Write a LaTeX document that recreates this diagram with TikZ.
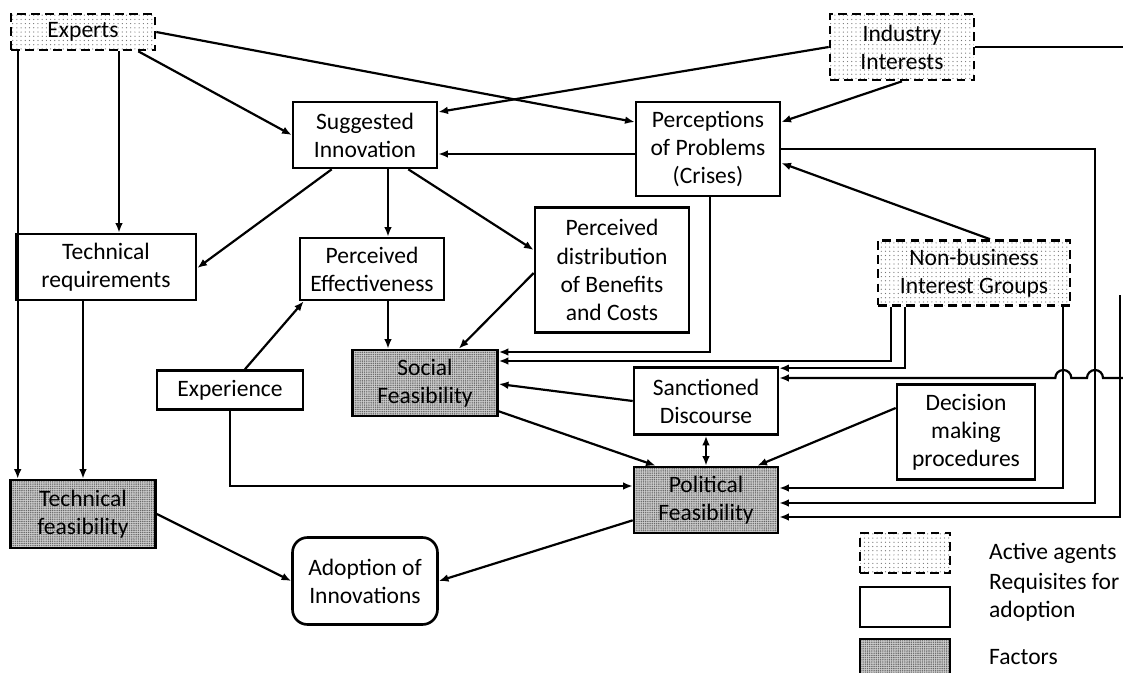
\documentclass[tikz,border=0pt]{standalone}
\usepackage{fontspec}
\setmainfont{Carlito}
\usetikzlibrary{arrows.meta, calc, patterns.meta}

\begin{document}
\begin{tikzpicture}[x=0.02cm, y=-0.02cm,
    font=\fontsize{13.4}{16}\selectfont,
    box/.style={draw, line width=1.5pt, align=center, inner sep=0pt},
    req/.style={box, fill=white},
    agent/.style={box, dash pattern=on 5pt off 3pt, preaction={fill=white},
        pattern={Dots[radius=0.35pt, distance=2.4pt]}, pattern color=black!55},
    factor/.style={box, preaction={fill=gray!40},
        pattern={Dots[radius=0.45pt, distance=1.25pt]}, pattern color=black!60},
    arr/.style={line width=1.25pt, -{Latex[length=5.5pt, width=4.4pt]}},
    link/.style={line width=1.25pt}]
    \useasboundingbox (0,0) rectangle (1123,673);

    % Active agents
    \node[agent, minimum width=2.88cm, minimum height=0.72cm] (exp) at (83,32) {Experts};
    \node[agent, minimum width=2.88cm, minimum height=1.32cm] (ind) at (902,47) {Industry\\Interests};
    \node[agent, minimum width=3.84cm, minimum height=1.3cm] (nonb) at (974,273) {Non-business\\Interest Groups};

    % Requisites for adoption
    \node[req, minimum width=2.88cm, minimum height=1.32cm] (sugg) at (365,135) {Suggested\\Innovation};
    \node[req, minimum width=2.88cm, minimum height=1.88cm] (perc) at (708,149) {Perceptions\\of Problems\\(Crises)};
    \node[req, minimum width=3.6cm, minimum height=1.32cm] (treq) at (106,267) {Technical\\requirements};
    \node[req, minimum width=2.88cm, minimum height=1.24cm] (eff) at (372,269) {Perceived\\Effectiveness};
    \node[req, minimum width=3.08cm, minimum height=2.5cm] (dist) at (612,270) {Perceived\\distribution\\of Benefits\\and Costs};
    \node[req, minimum width=2.92cm, minimum height=0.78cm] (expc) at (230,390) {Experience};
    \node[req, minimum width=2.88cm, minimum height=1.34cm] (sanc) at (706,401) {Sanctioned\\Discourse};
    \node[req, minimum width=2.76cm, minimum height=1.9cm] (dec) at (966,432) {Decision\\making\\procedures};
    \node[req, rounded corners=0.3cm, minimum width=2.9cm, minimum height=1.74cm] (adopt) at (365,581) {Adoption of\\Innovations};

    % Factors
    \node[factor, minimum width=2.9cm, minimum height=1.32cm] (soc) at (425,383) {Social\\Feasibility};
    \node[factor, minimum width=2.88cm, minimum height=1.32cm] (pol) at (706,500) {Political\\Feasibility};
    \node[factor, minimum width=2.9cm, minimum height=1.36cm] (tfeas) at (83,514) {Technical\\feasibility};

    % Rails on the right hand side
    \coordinate (railB) at (1095,148);
    \coordinate (railC) at (1120,295);
    \coordinate (hopIn) at (1140,378);
    \coordinate (exit) at (1140,47);

    % Experts
    \draw[arr] (exp.east) -- ($(perc.west)+(0,-27)$);
    \draw[arr] ($(exp.south east)+(-18,0)$) -- (sugg.west);
    \draw[arr] ($(exp.south)+(36,0)$) coordinate (e1) -- (e1 |- treq.north);
    \draw[arr] ($(exp.south west)+(8,0)$) coordinate (e2) -- (e2 |- tfeas.north);

    % Industry Interests
    \draw[arr] (ind.west) -- ($(sugg.east)+(0,-23)$);
    \draw[arr] (ind.south) -- ($(perc.east)+(0,-27)$);
    \draw[link] (ind.east) -- (ind.east -| exit);

    % Perceptions of Problems
    \draw[arr] ($(perc.west)+(0,5)$) coordinate (p1) -- (p1 -| sugg.east);
    \draw[arr] ($(perc.south)+(2,0)$) |- ($(soc.east)+(0,-31)$);
    \draw[arr] (perc.east) -- (perc.east -| railB) |- ($(pol.east)+(0,3)$);

    % Suggested Innovation
    \draw[arr] ($(sugg.south)+(23,0)$) coordinate (s1) -- (s1 |- eff.north);
    \draw[arr] ($(sugg.south west)+(40,0)$) -- ($(treq.east)+(0,1)$);
    \draw[arr] ($(sugg.south east)+(-30,0)$) -- ($(dist.west)+(0,-20)$);

    % Into Social Feasibility
    \draw[arr] ($(eff.south)+(16,0)$) coordinate (f1) -- (f1 |- soc.north);
    \draw[arr] ($(dist.west)+(0,3)$) -- ($(soc.north east)+(-40,0)$);
    \draw[arr] ($(expc.north)+(15,0)$) -- ($(eff.south west)+(5,0)$);
    \draw[arr] (sanc.west) -- ($(soc.east)+(0,1)$);

    % Non-business Interest Groups
    \draw[arr] ($(nonb.north)+(16,0)$) -- ($(perc.east)+(0,14)$);
    \draw[arr] ($(nonb.south west)+(14,0)$) |- ($(soc.east)+(0,-22)$);
    \draw[arr] ($(nonb.south west)+(28,0)$) |- ($(sanc.north east)+(0,2)$);
    \draw[arr] ($(nonb.south east)+(-8,0)$) coordinate (railA) |- ($(pol.east)+(0,-12)$);

    % Into Political Feasibility
    \draw[arr, {Latex[length=5.5pt, width=4.4pt]}-{Latex[length=5.5pt, width=4.4pt]}] (sanc.south) -- (sanc.south |- pol.north);
    \draw[arr] ($(dec.west)+(0,-24)$) -- ($(pol.north east)+(-22,0)$);
    \draw[arr] ($(soc.south east)+(0,-6)$) -- ($(pol.north west)+(23,0)$);
    \draw[arr] (expc.south) |- ($(pol.west)+(0,-14)$);
    \draw[arr] (railC) |- ($(pol.east)+(0,17)$);

    % Line hopping over the rails to Sanctioned Discourse
    \draw[arr] (hopIn) -- ($(hopIn -| railB)+(8,0)$)
        arc[start angle=0, end angle=180, radius=0.16cm]
        -- ($(hopIn -| railA)+(8,0)$)
        arc[start angle=0, end angle=180, radius=0.16cm]
        -- ($(sanc.east)+(0,-23)$);

    % Adoption of Innovations
    \draw[arr] ($(treq.south)+(-23,0)$) coordinate (t1) -- (t1 |- tfeas.north);
    \draw[arr] (tfeas.east) -- (adopt.west);
    \draw[arr] ($(pol.south west)+(0,-14)$) -- (adopt.east);

    % Legend
    \node[agent, minimum width=1.8cm, minimum height=0.8cm] (legA) at (905,553) {};
    \node[req, minimum width=1.8cm, minimum height=0.8cm] (legR) at (905,607) {};
    \node[factor, minimum width=1.8cm, minimum height=0.8cm] (legF) at (905,659) {};
    \node[anchor=west, align=left] (txtA) at (983,553) {Active agents};
    \node[anchor=west, align=left] (txtR) at (983,597) {Requisites for\\adoption};
    \node[anchor=west, align=left] (txtF) at (983,657) {Factors};
\end{tikzpicture}
\end{document}
